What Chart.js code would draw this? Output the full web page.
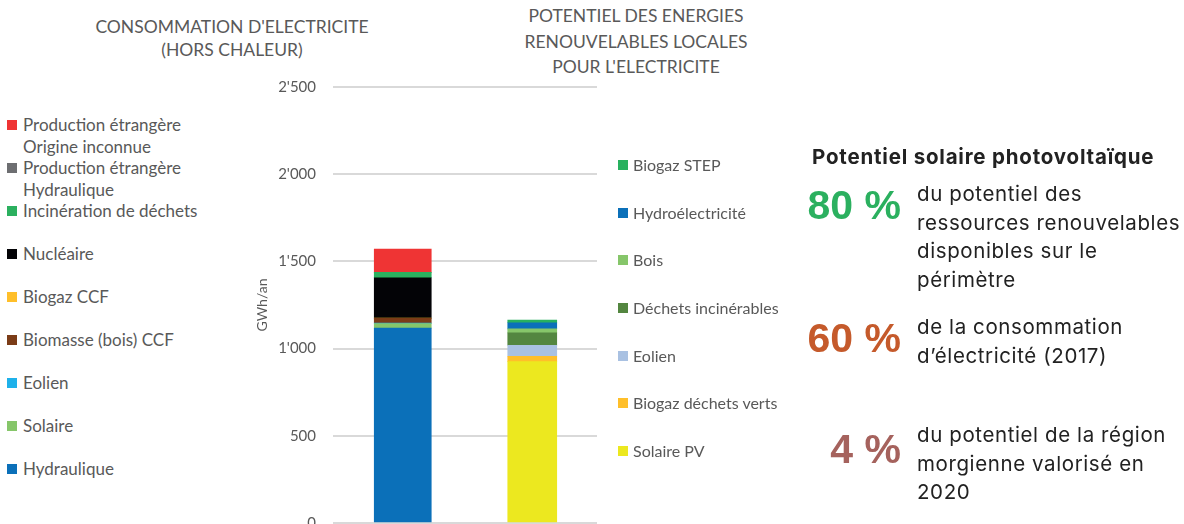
<!DOCTYPE html>
<html lang="fr">
<head>
<meta charset="utf-8">
<title>Consommation et potentiel d'électricité</title>
<script src="https://cdn.jsdelivr.net/npm/chart.js@4/dist/chart.umd.min.js"></script>
<style>
    html, body { margin: 0; padding: 0; background: #fff; }
    body { width: 1184px; height: 524px; overflow: hidden; position: relative; font-family: Lato, sans-serif; color: #595959; }
    .title { position: absolute; text-align: center; font-size: 17.5px; }
    #chartBox { position: absolute; left: 240px; top: 60px; width: 380px; height: 489px; }
    .legend { position: absolute; }
    .legend .item { position: relative; padding-left: 16px; white-space: pre-line; }
    .legend .sw { position: absolute; left: 0; width: 10px; height: 10px; }
    #legendLeft { left: 7px; top: 114px; font-size: 17px; }
    #legendLeft .item { height: 43px; line-height: 21.5px; }
    #legendLeft .sw { top: 6px; }
    #legendRight { left: 618px; top: 155px; font-size: 16px; }
    #legendRight .item { height: 47.67px; line-height: 20px; padding-left: 15px; }
    #legendRight .sw { top: 5px; }
    #panel { position: absolute; left: 0; top: 0; width: 1184px; height: 524px; color: #222; font-family: Inter, "Open Sans", sans-serif; }
    #panel .head { position: absolute; left: 812px; top: 144px; font-size: 20.5px; font-weight: 700; letter-spacing: 0.8px; white-space: nowrap; }
    #panel .big { position: absolute; width: 120px; left: 781px; text-align: right; font-family: "Liberation Sans", Arial, sans-serif; font-weight: 700; font-size: 41px; line-height: 46px; }
    #panel .txt { position: absolute; left: 917px; font-size: 20.5px; line-height: 28.7px; letter-spacing: 0.6px; white-space: nowrap; }
</style>
</head>
<body>

<div class="title" style="left:82px; width:300px; top:15px; line-height:23px;">CONSOMMATION D'ELECTRICITE<br>(HORS CHALEUR)</div>
<div class="title" style="left:486px; width:300px; top:3px; line-height:25.5px;">POTENTIEL DES ENERGIES<br>RENOUVELABLES LOCALES<br>POUR L'ELECTRICITE</div>

<div id="legendLeft" class="legend"></div>
<div id="chartBox"><canvas id="stackChart" width="380" height="489"></canvas></div>
<div id="legendRight" class="legend"></div>

<div id="panel">
    <div class="head">Potentiel solaire photovoltaïque</div>
    <div class="big" style="top:182px; color:#2bb05f;">80 %</div>
    <div class="txt" style="top:180px;">du potentiel des<br>ressources renouvelables<br>disponibles sur le<br>périmètre</div>
    <div class="big" style="top:315px; color:#c55a2b;">60 %</div>
    <div class="txt" style="top:313px;">de la consommation<br>d’électricité (2017)</div>
    <div class="big" style="top:426px; color:#a5625d;">4 %</div>
    <div class="txt" style="top:421px;">du potentiel de la région<br>morgienne valorisé en<br>2020</div>
</div>

<script>
document.addEventListener('DOMContentLoaded', () => {
    // Bars (x axis categories)
    const categories = ['Consommation', 'Potentiel'];

    // Consommation d'électricité, stacked from the bottom up (GWh/an)
    const consoLabels = ['Hydraulique', 'Solaire', 'Eolien', 'Biomasse (bois) CCF', 'Biogaz CCF', 'Nucléaire',
        'Incinération de déchets', 'Production étrangère\nHydraulique', 'Production étrangère\nOrigine inconnue'];
    const consoValues = [1117, 26, 4, 27, 1, 231, 32, 0, 133];
    const consoColors = ['#0b70b9', '#86c66a', '#1eb1ea', '#7b3c17', '#ffbf2a', '#030306', '#2bb05f', '#6d6e71', '#ef3434'];

    // Potentiel des énergies renouvelables locales, stacked from the bottom up (GWh/an)
    const potLabels = ['Solaire PV', 'Biogaz déchets verts', 'Eolien', 'Déchets incinérables', 'Bois', 'Hydroélectricité', 'Biogaz STEP'];
    const potValues = [925, 31, 63, 71, 23, 35, 15];
    const potColors = ['#ece81f', '#ffbf2a', '#a9c1e2', '#538640', '#86c66a', '#0b70b9', '#28b15f'];

    // Y axis ticks
    const yTicks = [0, 500, 1000, 1500, 2000, 2500];

    const datasets = [];
    consoValues.forEach((v, i) => {
        datasets.push({
            label: consoLabels[i],
            data: [v, null],
            backgroundColor: consoColors[i],
            barThickness: 57
        });
    });
    potValues.forEach((v, i) => {
        datasets.push({
            label: potLabels[i],
            data: [null, v],
            backgroundColor: potColors[i],
            barThickness: 49
        });
    });

    const fmt = v => String(v).replace(/\B(?=(\d{3})+(?!\d))/g, "'");

    new Chart(document.getElementById('stackChart'), {
        type: 'bar',
        data: { labels: categories, datasets },
        options: {
            responsive: false,
            animation: false,
            layout: { padding: { left: 0, top: 27, right: 23, bottom: 9 } },
            plugins: { legend: { display: false }, tooltip: { enabled: false } },
            scales: {
                x: { stacked: true, display: false },
                y: {
                    stacked: true,
                    min: yTicks[0],
                    max: yTicks[yTicks.length - 1],
                    afterBuildTicks: scale => { scale.ticks = yTicks.map(v => ({ value: v })); },
                    afterFit: scale => { scale.width = 98; },
                    border: { display: false },
                    grid: { color: '#d9d9d9', lineWidth: 2, drawTicks: true, tickLength: 5 },
                    ticks: {
                        padding: 17,
                        color: '#595959',
                        font: { family: 'Lato', size: 15 },
                        callback: v => fmt(v)
                    },
                    title: {
                        display: true,
                        text: 'GWh/an',
                        color: '#595959',
                        font: { family: 'Lato', size: 14 },
                        padding: { top: 14 }
                    }
                }
            }
        }
    });

    // Legends: top of the list = top of the stack
    const buildLegend = (el, labels, colors) => {
        for (let i = labels.length - 1; i >= 0; i--) {
            const item = document.createElement('div');
            item.className = 'item';
            const sw = document.createElement('span');
            sw.className = 'sw';
            sw.style.background = colors[i];
            item.appendChild(sw);
            item.appendChild(document.createTextNode(labels[i]));
            el.appendChild(item);
        }
    };
    buildLegend(document.getElementById('legendLeft'), consoLabels, consoColors);
    buildLegend(document.getElementById('legendRight'), potLabels, potColors);
});
</script>
</body>
</html>
